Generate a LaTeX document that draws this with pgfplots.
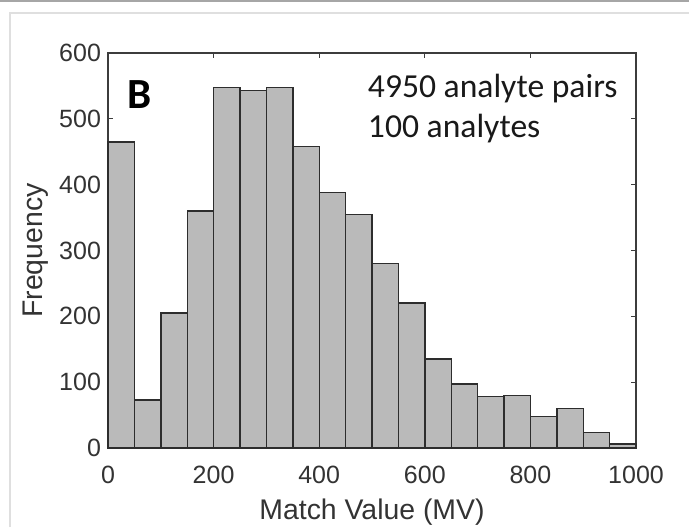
\documentclass[border=0pt]{standalone}
\usepackage{pgfplots}
\pgfplotsset{compat=1.18}
\usepackage{fontspec}
\setmainfont{Liberation Sans}
\newfontfamily\calib{Carlito}
\definecolor{barfill}{RGB}{186,186,186}
\definecolor{baredge}{RGB}{45,45,45}
\definecolor{axgray}{RGB}{60,60,60}
\begin{document}
\begin{tikzpicture}[x=0.5pt,y=0.5pt]
\useasboundingbox (0,0) rectangle (689,527);
\fill[white] (0,0) rectangle (689,527);
\draw[gray!70,line width=1pt] (0,526.5) -- (689,526.5);
\draw[gray!25,line width=0.8pt] (10,0) -- (10,514) -- (689,514);
\begin{axis}[
  at={(54pt,39.5pt)}, anchor=south west,
  scale only axis, width=264pt, height=197.5pt,
  xmin=0, xmax=1000, ymin=0, ymax=600,
  xtick={0,200,...,1000}, ytick={0,100,...,600},
  tick align=inside, tick pos=both,
  major tick length=2.5pt,
  axis line style={axgray, line width=0.6pt},
  every tick/.style={axgray, line width=0.5pt},
  tick label style={font=\fontsize{12.5}{15}\selectfont, text=black!80},
  xticklabel style={yshift=-5.5pt},
  /pgf/number format/assume math mode=true,
  /pgf/number format/1000 sep={},
  xlabel={Match Value (MV)}, ylabel={Frequency},
  label style={font=\fontsize{14.2}{17}\selectfont, text=black!80},
  xlabel style={at={(axis description cs:0.5,-0.11)}, anchor=north},
  ylabel style={at={(axis description cs:-0.099,0.5)}, anchor=south},
  clip=false,
]
\addplot[ybar interval, fill=barfill, draw=baredge, line width=0.7pt] coordinates {
(0,465) (50,73) (100,205) (150,360) (200,548) (250,543) (300,548) (350,458)
(400,388) (450,355) (500,280) (550,220) (600,135) (650,97) (700,78) (750,80)
(800,48) (850,60) (900,24) (950,6) (1000,6)
};
\node[anchor=base west, font=\calib\bfseries\fontsize{21.5}{25}\selectfont] at (axis cs:23,515) {B};
\node[anchor=base west, font=\calib\fontsize{16.8}{20}\selectfont, text=black!90] at (axis cs:479,532) {4950 analyte pairs};
\node[anchor=base west, font=\calib\fontsize{16.8}{20}\selectfont, text=black!90] at (axis cs:479,471) {100 analytes};
\end{axis}
\end{tikzpicture}
\end{document}
